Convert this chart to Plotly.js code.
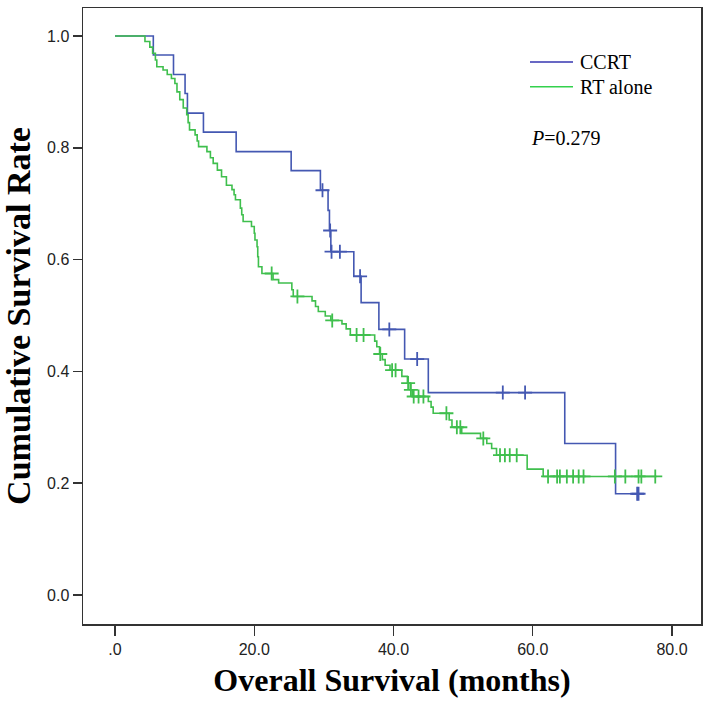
<!DOCTYPE html>
<html>
<head>
<meta charset="utf-8">
<script src="https://cdn.plot.ly/plotly-3.0.1.min.js"></script>
<style>html,body{margin:0;padding:0;background:#fff;}#chart{width:709px;height:705px;}</style>
</head>
<body>
<div id="chart"></div>
<script>
// CCRT (blue) step curve: time (months) and survival after each step
var ccrtTime = [0, 5.5, 8.4, 10.06, 10.4, 12.7, 17.4, 25.3, 29.5, 30.6, 30.8, 31.0, 34.3, 35.35, 37.9, 41.6, 45.0, 64.6, 71.9, 75.2];
var ccrtSurv = [1.0, 0.966, 0.931, 0.897, 0.862, 0.828, 0.793, 0.759, 0.724, 0.688, 0.652, 0.614, 0.570, 0.523, 0.475, 0.422, 0.362, 0.271, 0.181, 0.181];
var ccrtCensor = [29.8, 30.9, 31.1, 32.3, 35.2, 39.4, 43.4, 55.7, 58.9, 75.0, 75.2];

// RT alone (green) step curve
var rtTime = [0, 4.3, 5.0, 5.4, 5.8, 6.0, 6.9, 7.5, 8.1, 8.6, 8.9, 9.3, 9.8, 10.3, 10.5, 10.7, 11.5, 11.8, 12.0, 13.2, 13.7, 14.1, 14.7, 15.3, 16.0, 16.8, 17.1, 17.3, 18.0, 18.2, 18.4, 19.6, 20.0, 20.1, 20.4, 20.5, 20.6, 21.1, 22.7, 23.5, 25.4, 25.6, 28.3, 28.8, 29.2, 30.2, 31.0, 32.6, 33.2, 33.8, 37.3, 37.6, 38.0, 38.4, 38.8, 39.5, 41.2, 42.0, 42.4, 42.7, 45.0, 45.4, 45.7, 48.0, 48.4, 49.8, 52.5, 53.4, 54.1, 54.8, 59.2, 61.5, 77.8];
var rtSurv = [1.0, 0.99, 0.98, 0.969, 0.957, 0.945, 0.939, 0.931, 0.924, 0.915, 0.900, 0.886, 0.871, 0.859, 0.845, 0.832, 0.823, 0.812, 0.802, 0.793, 0.782, 0.772, 0.760, 0.748, 0.733, 0.725, 0.716, 0.707, 0.692, 0.680, 0.668, 0.659, 0.647, 0.635, 0.623, 0.605, 0.587, 0.575, 0.564, 0.558, 0.546, 0.534, 0.526, 0.516, 0.507, 0.499, 0.491, 0.485, 0.476, 0.465, 0.454, 0.444, 0.431, 0.421, 0.411, 0.402, 0.391, 0.379, 0.367, 0.355, 0.346, 0.336, 0.325, 0.313, 0.300, 0.289, 0.280, 0.271, 0.262, 0.250, 0.225, 0.212, 0.212];
var rtCensor = [22.5, 26.2, 31.2, 34.7, 35.7, 38.1, 39.8, 40.3, 42.1, 42.5, 42.9, 43.6, 44.3, 47.6, 49.1, 49.6, 52.9, 55.3, 56.0, 56.7, 57.7, 62.2, 63.5, 63.9, 64.9, 65.8, 66.6, 67.3, 71.8, 73.3, 75.2, 75.6, 77.6];

var xTickVals = [0, 20, 40, 60, 80];
var xTickText = ['.0', '20.0', '40.0', '60.0', '80.0'];
var yTickVals = [0, 0.2, 0.4, 0.6, 0.8, 1.0];
var yTickText = ['0.0', '0.2', '0.4', '0.6', '0.8', '1.0'];

var seriesNames = ['CCRT', 'RT alone'];
var pText = '<i>P</i>=0.279';

var blue = '#4458b2';
var green = '#3fbf4d';

function stepAt(T, S, t) {
  var v = S[0];
  for (var i = 0; i < T.length; i++) { if (T[i] <= t) v = S[i]; }
  return v;
}

var traces = [
  {x: ccrtTime, y: ccrtSurv, mode: 'lines', line: {shape: 'hv', color: blue, width: 1.6}, showlegend: false, hoverinfo: 'skip'},
  {x: ccrtCensor, y: ccrtCensor.map(function(t){return stepAt(ccrtTime, ccrtSurv, t);}), mode: 'markers',
   marker: {symbol: 'cross-thin', size: 10, line: {color: blue, width: 1.8}}, showlegend: false, hoverinfo: 'skip'},
  {x: rtTime, y: rtSurv, mode: 'lines', line: {shape: 'hv', color: green, width: 1.6}, showlegend: false, hoverinfo: 'skip'},
  {x: rtCensor, y: rtCensor.map(function(t){return stepAt(rtTime, rtSurv, t);}), mode: 'markers',
   marker: {symbol: 'cross-thin', size: 10, line: {color: green, width: 1.8}}, showlegend: false, hoverinfo: 'skip'}
];

var layout = {
  width: 709, height: 705,
  margin: {l: 83, r: 8, t: 8, b: 81},
  paper_bgcolor: '#fff', plot_bgcolor: '#fff',
  showlegend: false,
  xaxis: {
    range: [-4.6, 84.17], tickvals: xTickVals, ticktext: xTickText,
    ticks: 'outside', ticklen: 10, tickwidth: 1.5, tickcolor: '#333',
    showline: true, linecolor: '#333', linewidth: 1.5, mirror: true,
    showgrid: false, zeroline: false,
    tickfont: {family: 'Liberation Sans, Arial, sans-serif', size: 16, color: '#222'},
    title: {text: 'Overall Survival (months)', standoff: 12,
            font: {family: 'Liberation Serif, Times New Roman, serif', size: 32, color: '#000', weight: 'bold'}}
  },
  yaxis: {
    range: [-0.052, 1.05], tickvals: yTickVals, ticktext: yTickText,
    ticks: 'outside', ticklen: 9, tickwidth: 1.5, tickcolor: '#333',
    showline: true, linecolor: '#333', linewidth: 1.5, mirror: true,
    showgrid: false, zeroline: false,
    tickfont: {family: 'Liberation Sans, Arial, sans-serif', size: 16, color: '#222'},
    title: {text: 'Cumulative Survival Rate', standoff: 14,
            font: {family: 'Liberation Serif, Times New Roman, serif', size: 34, color: '#000', weight: 'bold'}}
  },
  shapes: [
    {type: 'line', xref: 'paper', yref: 'paper', x0: 0.7233, x1: 0.7929, y0: 0.9125, y1: 0.9125, line: {color: '#3636b0', width: 1.5}},
    {type: 'line', xref: 'paper', yref: 'paper', x0: 0.7233, x1: 0.7929, y0: 0.8722, y1: 0.8722, line: {color: '#33d14d', width: 1.5}}
  ],
  annotations: [
    {xref: 'paper', yref: 'paper', x: 0.801, y: 0.9125, xanchor: 'left', yanchor: 'middle', showarrow: false, text: seriesNames[0],
     font: {family: 'Liberation Serif, Times New Roman, serif', size: 20, color: '#000'}},
    {xref: 'paper', yref: 'paper', x: 0.801, y: 0.8722, xanchor: 'left', yanchor: 'middle', showarrow: false, text: seriesNames[1],
     font: {family: 'Liberation Serif, Times New Roman, serif', size: 20, color: '#000'}},
    {xref: 'paper', yref: 'paper', x: 0.7217, y: 0.789, xanchor: 'left', yanchor: 'middle', showarrow: false, text: pText,
     font: {family: 'Liberation Serif, Times New Roman, serif', size: 20, color: '#000'}}
  ]
};

Plotly.newPlot('chart', traces, layout, {displayModeBar: false, staticPlot: true});
</script>
</body>
</html>
